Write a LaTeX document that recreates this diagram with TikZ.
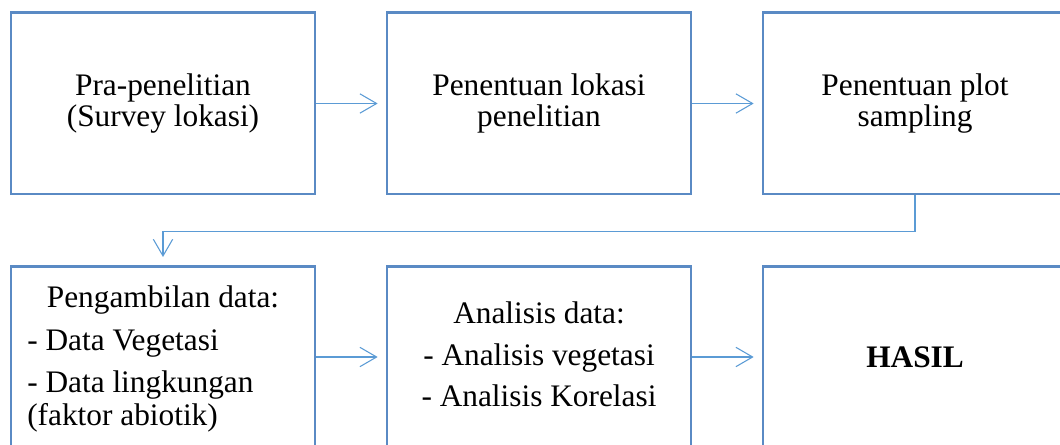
\documentclass[tikz,border=0pt]{standalone}
\usepackage{fontspec}
\setmainfont{Liberation Serif}
\usetikzlibrary{arrows.meta}
\definecolor{boxblue}{HTML}{5A8AC4}
\definecolor{linkblue}{HTML}{5B9BD5}
\begin{document}
\begin{tikzpicture}[x=0.75pt,y=-0.75pt,
    box/.style={draw=boxblue,line width=2pt,minimum width=228pt,minimum height=136pt,
      inner sep=0pt,align=center,font=\fontsize{23.5pt}{23.3pt}\selectfont},
    line/.style={font=\fontsize{23.5pt}{23.3pt}\selectfont,inner sep=0pt},
    link/.style={draw=linkblue,line width=0.8pt,shorten >=6pt,
      -{Straight Barb[length=12.5pt,width=14.5pt]}}]
      \useasboundingbox (0,0) rectangle (1060,445);
      \clip (0,0) rectangle (1060,445);
      \draw
        (163,103.5) node[box] (b1){Pra-penelitian\\(Survey lokasi)}
        (539,103.5) node[box] (b2){Penentuan lokasi\\penelitian}
        (915,103.5) node[box] (b3){Penentuan plot\\sampling}
        (163,357) node[box] (b4){}
        (539,357) node[box] (b5){}
        (915,357) node[box,font=\fontsize{23.5pt}{23.3pt}\selectfont\bfseries] (b6){HASIL};
      \draw
        (163,308) node[line,anchor=base] (t1){Pengambilan data:}
        (27,350) node[line,anchor=base west] (t2){- Data Vegetasi}
        (27,392) node[line,anchor=base west] (t3){- Data lingkungan}
        (27,425) node[line,anchor=base west] (t4){(faktor abiotik)}
        (539,323) node[line,anchor=base] (t5){Analisis data:}
        (539,365) node[line,anchor=base] (t6){- Analisis vegetasi}
        (539,406) node[line,anchor=base] (t7){- Analisis Korelasi};
      \begin{scope}[link]
        \draw (b1) to (b2);
        \draw (b2) to (b3);
        \draw (b3.south) -- ++(0,36) -| (b4.north);
        \draw (b4) to (b5);
        \draw (b5) to (b6);
      \end{scope}
    \end{tikzpicture}
\end{document}
